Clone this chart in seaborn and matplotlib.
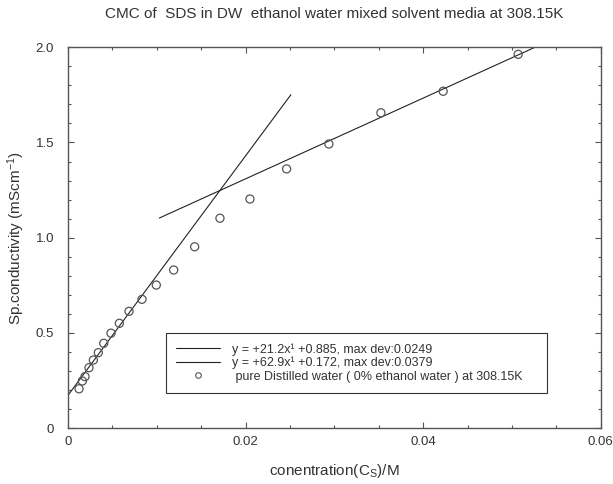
import numpy as np
import pandas as pd
import matplotlib
matplotlib.use("Agg")
import matplotlib.pyplot as plt
from matplotlib.ticker import MultipleLocator, FuncFormatter
from matplotlib.lines import Line2D
import seaborn as sns

# measured points (pure distilled water, 308.15 K)
conc = [0.00124, 0.00161, 0.00191, 0.00236, 0.00285, 0.00341, 0.00402,
        0.00484, 0.00578, 0.00687, 0.00833, 0.00994, 0.0119, 0.01426,
        0.01711, 0.02049, 0.02462, 0.02938, 0.03524, 0.04225, 0.0507]
kappa = [0.206, 0.247, 0.270, 0.317, 0.357, 0.396, 0.445,
         0.498, 0.550, 0.613, 0.676, 0.751, 0.830, 0.952,
         1.102, 1.203, 1.361, 1.492, 1.656, 1.769, 1.963]

# linear fits: slope, intercept, x-range
fit_post = (21.2, 0.885, [0.01028, 0.0535])
fit_pre = (62.9, 0.172, [0.0, 0.0251])

labels = [
    "y = +21.2x\u00b9 +0.885, max dev:0.0249",
    "y = +62.9x\u00b9 +0.172, max dev:0.0379",
    " pure Distilled water ( 0% ethanol water ) at 308.15K",
]

sns.set_style("white")
plt.rcParams["font.family"] = ["Liberation Sans", "DejaVu Sans"]
plt.rcParams["mathtext.fontset"] = "custom"
plt.rcParams["mathtext.rm"] = "Liberation Sans"
plt.rcParams["mathtext.it"] = "Liberation Sans"
plt.rcParams["mathtext.default"] = "rm"

TXT = "#333333"

fig = plt.figure(figsize=(6.13, 4.84), dpi=100)
ax = fig.add_axes([0.111, 0.1157, 0.869, 0.7866])

pts = pd.DataFrame({"c": conc, "k": kappa})
for slope, icpt, xr in (fit_post, fit_pre):
    xs = np.array(xr)
    line = pd.DataFrame({"c": xs, "k": slope * xs + icpt})
    sns.lineplot(data=line, x="c", y="k", ax=ax, color="#222222", lw=0.8)

sns.scatterplot(data=pts, x="c", y="k", ax=ax, marker="o", s=34,
                facecolor="none", edgecolor="#555555", linewidth=0.9, zorder=3)

ax.set_xlim(0, 0.06)
ax.set_ylim(0, 2.0)
ax.xaxis.set_major_locator(MultipleLocator(0.02))
ax.xaxis.set_minor_locator(MultipleLocator(0.005))
ax.yaxis.set_major_locator(MultipleLocator(0.5))
ax.yaxis.set_minor_locator(MultipleLocator(0.1))
ax.xaxis.set_major_formatter(FuncFormatter(lambda v, p: "0" if v == 0 else f"{v:.2f}"))
ax.yaxis.set_major_formatter(FuncFormatter(lambda v, p: "0" if v == 0 else f"{v:.1f}"))
ax.tick_params(which="both", direction="in", top=True, right=True,
               bottom=True, left=True, colors="#555555", labelcolor=TXT,
               labelsize=9.5, width=0.8)
ax.tick_params(which="major", length=4)
ax.tick_params(which="minor", length=2)
ax.tick_params(axis="x", which="major", pad=6)
ax.tick_params(axis="y", which="major", pad=10)
for sp in ax.spines.values():
    sp.set_color("#555555")
    sp.set_linewidth(1.0)

ax.set_xlabel("conentration(C$_{S}$)/M", fontsize=11, color=TXT, labelpad=10)
ax.set_ylabel("Sp.conductivity (mScm$^{-1}$)", fontsize=11, color=TXT, labelpad=6)
fig.text(0.5457, 0.971, "CMC of  SDS in DW  ethanol water mixed solvent media at 308.15K",
         fontsize=11, color=TXT, ha="center", va="center")

handles = [
    Line2D([], [], color="#222222", lw=0.8),
    Line2D([], [], color="#222222", lw=0.8),
    Line2D([], [], ls="none", marker="o", markersize=4, markerfacecolor="none",
           markeredgecolor="#555555", markeredgewidth=0.8),
]
leg = ax.legend(handles, labels, loc="lower left",
                bbox_to_anchor=(0.184, 0.093, 0.716, 0.157), mode="expand",
                fontsize=9, frameon=True, fancybox=False, framealpha=1,
                edgecolor="#333333", handlelength=3.5, handletextpad=1.0,
                labelspacing=0.1, borderpad=0.8, borderaxespad=0)
leg.get_frame().set_linewidth(0.8)
for t in leg.get_texts():
    t.set_color(TXT)

fig.savefig("out.png", dpi=100)
